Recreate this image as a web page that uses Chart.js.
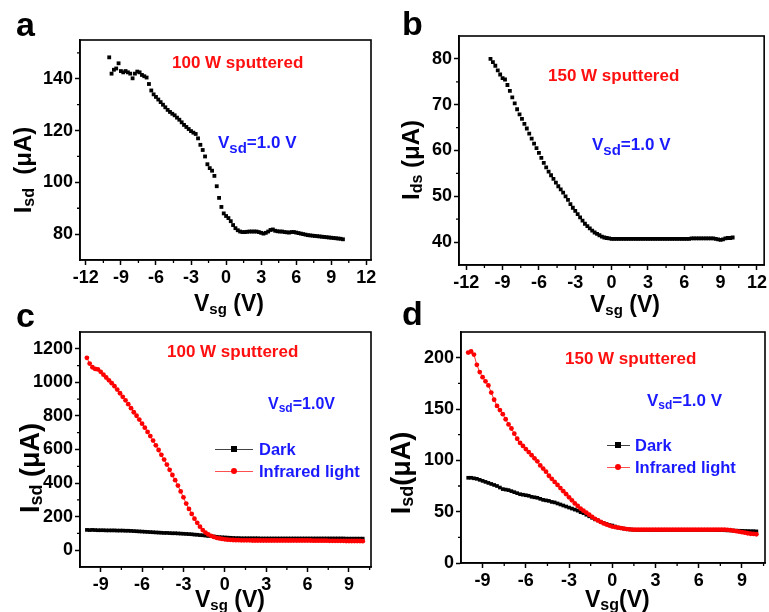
<!DOCTYPE html>
<html>
<head>
<meta charset="utf-8">
<script src="https://cdn.jsdelivr.net/npm/chart.js@4/dist/chart.umd.min.js"></script>
<style>
body { margin: 0; background: #fff; }
#wrap { position: relative; width: 769px; height: 612px; overflow: hidden; font-family: "Liberation Sans", Arial, sans-serif; font-weight: bold; }
canvas { position: absolute; }
.t { position: absolute; white-space: nowrap; line-height: 1; }
.red { color: #ff1010; }
.blue { color: #1a1aff; }
.rot { transform: translate(-50%, -50%) rotate(-90deg); }
.sub { position: relative; }
.ln { position: absolute; height: 1px; }
.mk { position: absolute; }
</style>
</head>
<body>
<div id="wrap">
  <canvas id="chA" width="385" height="300" style="left:0;top:0"></canvas>
  <canvas id="chB" width="384" height="300" style="left:385px;top:0"></canvas>
  <canvas id="chC" width="385" height="312" style="left:0;top:300px"></canvas>
  <canvas id="chD" width="384" height="312" style="left:385px;top:300px"></canvas>

  <!-- panel letters -->
  <div class="t" style="left:16px;top:7px;font-size:34px">a</div>
  <div class="t" style="left:402px;top:6px;font-size:34px">b</div>
  <div class="t" style="left:16px;top:298px;font-size:34px">c</div>
  <div class="t" style="left:402px;top:296px;font-size:34px">d</div>

  <!-- notes -->
  <div class="t red" style="left:172px;top:54px;font-size:17px">100 W sputtered</div>
  <div class="t blue" style="left:218px;top:134px;font-size:17px">V<span class="sub" style="font-size:15px;top:5px">sd</span>=1.0 V</div>
  <div class="t red" style="left:548px;top:67px;font-size:17px">150 W sputtered</div>
  <div class="t blue" style="left:592px;top:136px;font-size:17px">V<span class="sub" style="font-size:15px;top:5px">sd</span>=1.0 V</div>
  <div class="t red" style="left:167px;top:343px;font-size:17px">100 W sputtered</div>
  <div class="t blue" style="left:268px;top:396px;font-size:16px">V<span class="sub" style="font-size:12px;top:3px">sd</span>=1.0V</div>
  <div class="t red" style="left:565px;top:350px;font-size:17px">150 W sputtered</div>
  <div class="t blue" style="left:647px;top:392px;font-size:17px">V<span class="sub" style="font-size:12px;top:3px">sd</span>=1.0 V</div>

  <!-- legends -->
  <div class="ln" style="left:215px;top:449px;width:38px;background:#444"></div>
  <div class="mk" style="left:231px;top:446px;width:6px;height:6px;background:#000"></div>
  <div class="t blue" style="left:259px;top:441px;font-size:16.5px">Dark</div>
  <div class="ln" style="left:215px;top:471px;width:38px;background:#ff5050"></div>
  <div class="mk" style="left:231px;top:468px;width:6px;height:6px;border-radius:50%;background:#f00"></div>
  <div class="t blue" style="left:259px;top:463px;font-size:16.5px">Infrared light</div>

  <div class="ln" style="left:607px;top:445px;width:23px;background:#444"></div>
  <div class="mk" style="left:615px;top:442px;width:6px;height:6px;background:#000"></div>
  <div class="t blue" style="left:635px;top:437px;font-size:16.5px">Dark</div>
  <div class="ln" style="left:607px;top:467px;width:23px;background:#ff5050"></div>
  <div class="mk" style="left:615px;top:464px;width:6px;height:6px;border-radius:50%;background:#f00"></div>
  <div class="t blue" style="left:635px;top:459px;font-size:16.5px">Infrared light</div>

  <!-- axis titles -->
  <div class="t" style="left:194px;top:292px;font-size:23px">V<span class="sub" style="font-size:15px;top:3px">sg</span> (V)</div>
  <div class="t" style="left:590px;top:293px;font-size:23px">V<span class="sub" style="font-size:15px;top:3px">sg</span> (V)</div>
  <div class="t" style="left:195px;top:588px;font-size:23px">V<span class="sub" style="font-size:15px;top:3px">sg</span> (V)</div>
  <div class="t" style="left:585px;top:588px;font-size:23px">V<span class="sub" style="font-size:16px;top:3px">sg</span>(V)</div>

  <div class="t rot" style="left:23px;top:170px;font-size:24px">I<span class="sub" style="font-size:16px;top:3px">sd</span>&nbsp; (μA)</div>
  <div class="t rot" style="left:411px;top:160px;font-size:24px">I<span class="sub" style="font-size:16px;top:3px">ds</span> (μA)</div>
  <div class="t rot" style="left:30px;top:468px;font-size:27px">I<span class="sub" style="font-size:18px;top:3px">sd</span> (μA)</div>
  <div class="t rot" style="left:401px;top:473px;font-size:27px">I<span class="sub" style="font-size:18px;top:3px">sd</span>(μA)</div>
</div>

<script>
// gate voltage sweep (V)
const vg = [
  -10, -9.8, -9.6, -9.4, -9.2, -9, -8.8, -8.6, -8.4, -8.2,
  -8, -7.8, -7.6, -7.4, -7.2, -7, -6.8, -6.6, -6.4, -6.2,
  -6, -5.8, -5.6, -5.4, -5.2, -5, -4.8, -4.6, -4.4, -4.2,
  -4, -3.8, -3.6, -3.4, -3.2, -3, -2.8, -2.6, -2.4, -2.2,
  -2, -1.8, -1.6, -1.4, -1.2, -1, -0.8, -0.6, -0.4, -0.2,
  0, 0.2, 0.4, 0.6, 0.8, 1, 1.2, 1.4, 1.6, 1.8,
  2, 2.2, 2.4, 2.6, 2.8, 3, 3.2, 3.4, 3.6, 3.8,
  4, 4.2, 4.4, 4.6, 4.8, 5, 5.2, 5.4, 5.6, 5.8,
  6, 6.2, 6.4, 6.6, 6.8, 7, 7.2, 7.4, 7.6, 7.8,
  8, 8.2, 8.4, 8.6, 8.8, 9, 9.2, 9.4, 9.6, 9.8,
  10
];

// a: 100 W sputtered, Isd (uA)
const aIsd = [
  148.3, 142, 143.5, 144, 146, 143, 142.5, 143, 142.5, 142,
  140.2, 142, 142.8, 142.5, 141.5, 141, 140.5, 138, 135.5, 134,
  133, 132, 131, 130, 129, 128, 127.2, 126.5, 125.9, 125,
  124.2, 123.2, 122.2, 121.4, 120.6, 119.8, 119.2, 118.7, 117, 114.5,
  112.5, 110, 107, 105.5, 104.5, 102.5, 98.5, 94, 90.5, 88,
  87, 86.2, 85, 83.5, 82.3, 81.5, 81, 80.8, 80.8, 80.9,
  81, 81, 81, 81, 80.8, 80.5, 80.2, 80.5, 81, 81.6,
  81.8, 81.3, 81.1, 81, 81, 80.8, 80.7, 80.6, 80.8, 80.8,
  80.6, 80.4, 80.2, 80, 79.8, 79.6, 79.5, 79.4, 79.3, 79.2,
  79.1, 79, 78.9, 78.8, 78.7, 78.6, 78.5, 78.4, 78.3, 78.2,
  78
];

// b: 150 W sputtered, Ids (uA)
const bIds = [
  80, 79.3, 78.5, 77.5, 76.6, 75.8, 75.5, 74.3, 73, 71.6,
  70.3, 69, 67.9, 66.9, 65.8, 64.8, 63.7, 62.6, 61.5, 60.5,
  59.5, 58.4, 57.3, 56.3, 55.4, 54.6, 53.8, 53, 52.2, 51.5,
  50.8, 50, 49.2, 48.3, 47.5, 46.8, 46.1, 45.4, 44.7, 44,
  43.5, 43, 42.5, 42.1, 41.8, 41.5, 41.2, 41, 40.9, 40.8,
  40.7, 40.7, 40.7, 40.7, 40.7, 40.7, 40.7, 40.7, 40.7, 40.7,
  40.7, 40.7, 40.7, 40.7, 40.7, 40.7, 40.7, 40.7, 40.7, 40.7,
  40.7, 40.7, 40.7, 40.7, 40.7, 40.7, 40.7, 40.7, 40.7, 40.7,
  40.7, 40.7, 40.7, 40.8, 40.8, 40.8, 40.8, 40.8, 40.8, 40.8,
  40.8, 40.8, 40.8, 40.7, 40.6, 40.5, 40.6, 40.8, 40.9, 40.9,
  41
];

// c: 100 W sputtered, dark / infrared
const cDark = [
  121, 120, 121, 120, 119, 119, 119, 118, 118, 118,
  118, 117, 117, 117, 116, 116, 115, 114, 113, 112,
  111, 110, 109, 108, 107, 106, 105, 104, 103, 103,
  102, 101, 101, 100, 99, 98, 97, 96, 95, 93,
  92, 90, 89, 87, 85, 84, 82, 80, 78, 77,
  76, 75, 74, 73, 72, 72, 71, 71, 71, 71,
  71, 71, 71, 70, 70, 70, 70, 70, 70, 70,
  70, 70, 70, 70, 70, 70, 70, 70, 70, 70,
  70, 70, 70, 70, 70, 70, 70, 70, 70, 70,
  70, 70, 70, 70, 69, 69, 69, 69, 69, 69,
  69
];
const cIr = [
  1146, 1112, 1090, 1080, 1077, 1063, 1046, 1029, 1012, 995,
  977, 957, 935, 914, 893, 870, 846, 822, 801, 778,
  754, 730, 705, 680, 653, 625, 597, 568, 540, 510,
  479, 448, 417, 385, 350, 315, 278, 246, 216, 188,
  163, 140, 120, 105, 94, 86, 79, 74, 70, 67,
  65, 63, 62, 61, 60, 60, 59, 59, 59, 59,
  58, 58, 58, 58, 58, 58, 58, 58, 58, 58,
  58, 58, 58, 58, 58, 58, 58, 58, 58, 58,
  58, 58, 57, 57, 57, 57, 57, 57, 56, 56,
  56, 56, 56, 56, 55, 55, 55, 55, 55, 55,
  54
];

// d: 150 W sputtered, dark / infrared
const dDark = [
  83, 83, 82.5, 82, 81, 80, 79, 78, 77, 76,
  75, 73.5, 72, 71.5, 71, 70, 69, 68, 67, 66.5,
  66, 65.5, 64.5, 64, 63.5, 62.5, 61.5, 61, 60.5, 59.5,
  59, 58, 57, 56, 55, 54, 53, 52, 51, 49.5,
  48.5, 47, 45.5, 44, 42.5, 41.5, 40, 39, 38, 37,
  36.5, 35.5, 34.5, 34, 33.5, 33, 32.7, 32.5, 32.3, 32.2,
  32.2, 32.2, 32.2, 32.2, 32.2, 32.2, 32.2, 32.2, 32.2, 32.2,
  32.3, 32.3, 32.3, 32.3, 32.3, 32.3, 32.3, 32.3, 32.3, 32.3,
  32.3, 32.3, 32.3, 32.3, 32.2, 32.2, 32.1, 32, 32, 31.9,
  31.8, 31.7, 31.6, 31.5, 31.4, 31.3, 31.2, 31.1, 31, 31,
  30.8
];
const dIr = [
  205, 206, 203, 193, 186, 181, 177, 173, 166, 159,
  153, 149, 145, 140, 135, 131, 126, 121, 117, 114,
  111, 108, 105, 102, 99, 95, 92, 89, 85, 82,
  79, 76, 73, 70, 67, 64, 61, 58, 55.5, 53,
  51, 49, 47, 45, 43, 41.5, 40, 38.5, 37.5, 36.5,
  35.5, 35, 34.5, 34, 33.5, 33, 32.8, 32.6, 32.5, 32.5,
  32.5, 32.5, 32.5, 32.5, 32.5, 32.5, 32.5, 32.5, 32.5, 32.5,
  32.5, 32.5, 32.5, 32.5, 32.5, 32.5, 32.5, 32.5, 32.5, 32.5,
  32.5, 32.5, 32.5, 32.5, 32.5, 32.5, 32.5, 32.5, 32.5, 32.5,
  32.3, 32, 31.5, 31, 30.5, 30, 29.5, 29, 28.5, 28.3,
  28
];

// tick values
const xTicksAB = [-12, -9, -6, -3, 0, 3, 6, 9, 12];
const xTicksCD = [-9, -6, -3, 0, 3, 6, 9];
const yTicksA = [80, 100, 120, 140];
const yTicksB = [40, 50, 60, 70, 80];
const yTicksC = [0, 200, 400, 600, 800, 1000, 1200];
const yTicksD = [0, 50, 100, 150, 200];
const xMinor = [-10.5, -7.5, -4.5, -1.5, 1.5, 4.5, 7.5, 10.5];
const yMinorA = [90, 110, 130, 150];
const yMinorB = [45, 55, 65, 75, 85];
const yMinorC = [100, 300, 500, 700, 900, 1100, 1300];
const yMinorD = [25, 75, 125, 175, 225];

const pts = ys => ys.map((y, i) => ({ x: vg[i], y: y }));

// frame + minor ticks
const frame = {
  id: 'frame',
  afterDraw(chart, args, opts) {
    const { ctx, chartArea: a } = chart;
    const x = chart.scales.x, y = chart.scales.y;
    ctx.save();
    ctx.strokeStyle = '#000';
    ctx.lineWidth = 1.6;
    ctx.strokeRect(a.left, a.top, a.right - a.left, a.bottom - a.top);
    ctx.lineWidth = 1.3;
    ctx.beginPath();
    (opts.x || []).forEach(v => {
      if (v <= x.min || v >= x.max) return;
      const p = x.getPixelForValue(v);
      ctx.moveTo(p, a.bottom); ctx.lineTo(p, a.bottom + 3);
    });
    (opts.y || []).forEach(v => {
      if (v <= y.min || v >= y.max) return;
      const p = y.getPixelForValue(v);
      ctx.moveTo(a.left, p); ctx.lineTo(a.left - 3, p);
    });
    ctx.stroke();
    ctx.restore();
  }
};

const tickFont = { family: '"Liberation Sans", Arial, sans-serif', size: 18, weight: 'bold' };

function axis(min, max, ticks, fit) {
  return {
    type: 'linear', min: min, max: max,
    afterBuildTicks: s => { s.ticks = ticks.map(v => ({ value: v })); },
    afterFit: fit,
    grid: { drawOnChartArea: false, tickLength: 5, tickWidth: 1.5, tickColor: '#000' },
    border: { color: '#000', width: 1.6 },
    ticks: { color: '#000', font: tickFont, padding: 2, maxRotation: 0, autoSkip: false, callback: v => String(v) }
  };
}

function panel(id, p) {
  return new Chart(document.getElementById(id), {
    type: 'scatter',
    data: { datasets: p.sets },
    options: {
      responsive: false,
      animation: false,
      layout: { padding: p.pad },
      plugins: { legend: { display: false }, tooltip: { enabled: false }, frame: { x: xMinor, y: p.minY } },
      scales: {
        x: axis(p.x[0], p.x[1], p.xt, s => { s.height = p.xh; }),
        y: axis(p.y[0], p.y[1], p.yt, s => { s.width = p.yw; })
      }
    },
    plugins: [frame]
  });
}

const black = (data) => ({ data: data, showLine: false, pointStyle: 'rect', pointRadius: 2.7, pointBackgroundColor: '#000', pointBorderWidth: 0 });

panel('chA', { sets: [black(pts(aIsd))], pad: { left: 0, right: 14, top: 40, bottom: 0 },
  x: [-12.5, 12.4], xt: xTicksAB, xh: 40, y: [70, 155], yt: yTicksA, yw: 80, minY: yMinorA });

panel('chB', { sets: [black(pts(bIds))], pad: { left: 0, right: 4, top: 36, bottom: 0 },
  x: [-12.6, 12.6], xt: xTicksAB, xh: 35, y: [35, 85], yt: yTicksB, yw: 74, minY: yMinorB });

panel('chC', { sets: [
    { data: pts(cIr), order: 0, showLine: true, borderColor: '#ff3030', borderWidth: 1, pointStyle: 'circle', pointRadius: 2.4, pointBackgroundColor: '#ff0000', pointBorderWidth: 0 },
    { data: pts(cDark), order: 1, showLine: true, borderColor: '#000', borderWidth: 1, pointStyle: 'rect', pointRadius: 2.6, pointBackgroundColor: '#000', pointBorderWidth: 0 }
  ], pad: { left: 0, right: 14, top: 32, bottom: 0 },
  x: [-10.5, 10.6], xt: xTicksCD, xh: 45, y: [-100, 1300], yt: yTicksC, yw: 80, minY: yMinorC });

panel('chD', { sets: [
    { data: pts(dIr), order: 0, showLine: true, borderColor: '#ff3030', borderWidth: 1, pointStyle: 'circle', pointRadius: 2.4, pointBackgroundColor: '#ff0000', pointBorderWidth: 0 },
    { data: pts(dDark), order: 1, showLine: true, borderColor: '#000', borderWidth: 1, pointStyle: 'rect', pointRadius: 2.6, pointBackgroundColor: '#000', pointBorderWidth: 0 }
  ], pad: { left: 0, right: 4, top: 32, bottom: 0 },
  x: [-10.5, 10.6], xt: xTicksCD, xh: 49, y: [0, 225], yt: yTicksD, yw: 76, minY: yMinorD });
</script>
</body>
</html>
